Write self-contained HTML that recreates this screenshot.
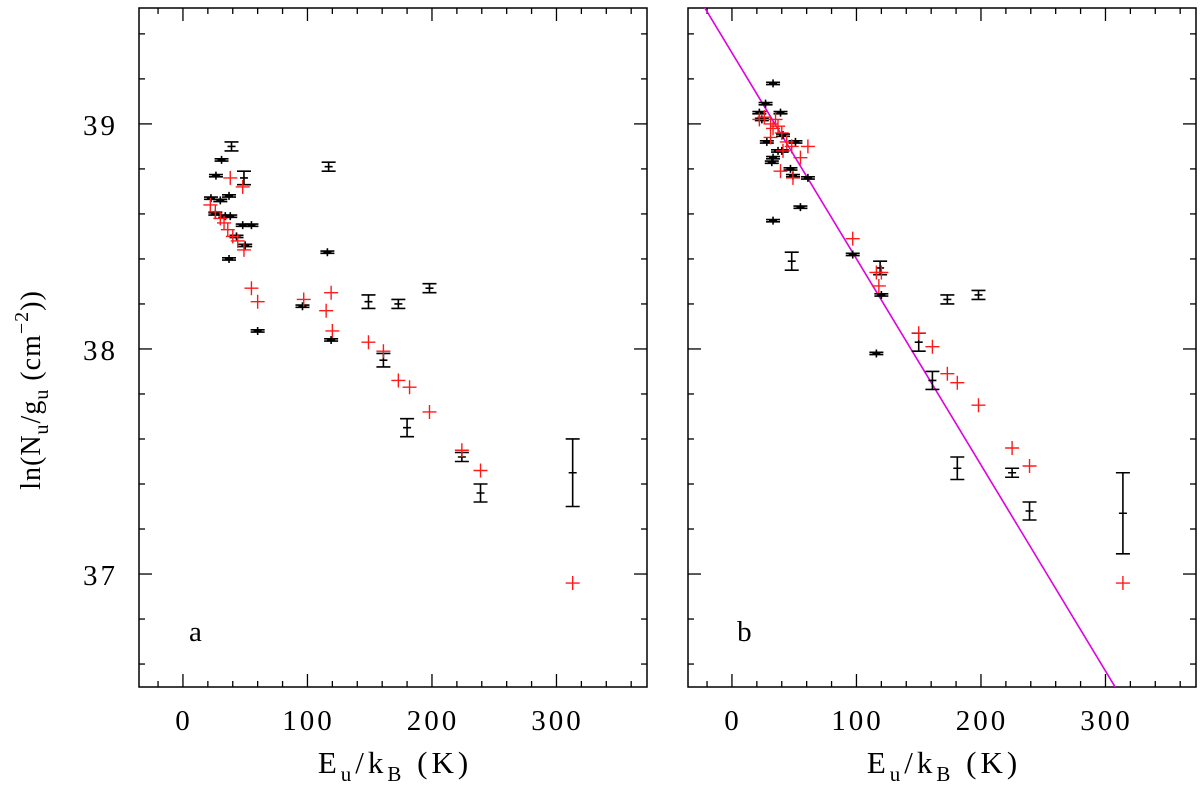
<!DOCTYPE html>
<html><head><meta charset="utf-8"><style>
body{margin:0;background:#fff;}
svg{display:block;font-family:"Liberation Serif",serif;}
</style></head><body>
<svg id="chart" width="1200" height="785" viewBox="0 0 1200 785"></svg>
<script>
// Panel a data: [E_u/k_B, ln(Nu/gu), err]
const blackAK=[39,26.5,31,49,22.5,30,37,26,34,38,48,55,43,50,37,60,117,116,96,119,149,173,198,161,180,224,239,313];
const blackAY=[38.90,38.77,38.84,38.76,38.67,38.66,38.68,38.60,38.59,38.59,38.55,38.55,38.50,38.46,38.40,38.08,38.81,38.43,38.19,38.04,38.21,38.20,38.27,37.95,37.65,37.52,37.36,37.45];
const blackAE=[0.02,0.005,0.005,0.03,0.005,0.005,0.005,0.005,0.005,0.005,0.005,0.005,0.005,0.005,0.005,0.005,0.02,0.005,0.005,0.005,0.03,0.02,0.02,0.03,0.04,0.02,0.04,0.15];
const redAK=[38,48,22,26,30,33,36,40,44,49,55,60,97,115,119,120,149,161,173,182,198,224,239,313];
const redAY=[38.76,38.72,38.64,38.61,38.58,38.56,38.53,38.50,38.48,38.44,38.27,38.21,38.22,38.17,38.25,38.08,38.03,37.99,37.86,37.83,37.72,37.55,37.46,36.96];
// Panel b data
const blackBK=[33,27,39,22,24,28,51,41,37,33,32,40,47,49,61,55,33,48,97,119,120,173,198,150,116,161,181,225,239,314];
const blackBY=[39.18,39.09,39.05,39.05,39.02,38.92,38.92,38.95,38.88,38.85,38.83,38.88,38.80,38.77,38.76,38.63,38.57,38.39,38.42,38.36,38.24,38.22,38.24,38.03,37.98,37.86,37.47,37.45,37.28,37.27];
const blackBE=[0.005,0.005,0.005,0.005,0.005,0.005,0.005,0.005,0.005,0.005,0.005,0.005,0.005,0.005,0.005,0.005,0.005,0.04,0.005,0.03,0.005,0.02,0.02,0.04,0.005,0.04,0.05,0.02,0.04,0.18];
const redBK=[22,26,31,33,35,37,40,31,44,48,61,55,39,49,41,97,116,120,118,150,161,173,181,198,225,239,314];
const redBY=[39.02,39.03,39.00,38.98,39.02,38.99,38.96,38.94,38.92,38.90,38.90,38.85,38.79,38.76,38.88,38.49,38.34,38.34,38.28,38.07,38.01,37.89,37.85,37.75,37.56,37.48,36.96];
// Fit line (panel b)
const fitIntercept=39.316;
const fitSlope=-0.009156;
const xTicks=[0,100,200,300];
const yTicks=[37,38,39];

const NS="http://www.w3.org/2000/svg";
const svg=document.getElementById('chart');
function el(tag,attrs,parent){const e=document.createElementNS(NS,tag);for(const k in attrs)e.setAttribute(k,attrs[k]);(parent||svg).appendChild(e);return e;}
const XMIN=-35.3,XMAX=372.7,YMIN=36.498,YMAX=39.515,TOP=8,BOT=687;
function yS(v){return BOT-(v-YMIN)/(YMAX-YMIN)*(BOT-TOP);}

function panel(left,right,name,letter,bK,bY,bE,rK,rY,showY,fit){
  const g=el('g',{});
  
  
  const xS=v=>left+(v-XMIN)/(XMAX-XMIN)*(right-left);
  const frame=el('rect',{x:left,y:TOP,width:right-left,height:BOT-TOP,fill:'none',stroke:'#000','stroke-width':1.5},g);
  
  
  for(let v=-20;v<=360;v+=20){
    const x=xS(v);const L=(v%100===0)?13:6;
    el('line',{x1:x,x2:x,y1:BOT,y2:BOT-L,stroke:'#000','stroke-width':1.3},g);
    el('line',{x1:x,x2:x,y1:TOP,y2:TOP+L,stroke:'#000','stroke-width':1.3},g);
  }
  xTicks.forEach(v=>{const t=el('text',{x:xS(v)+1,y:730,'font-size':29,'letter-spacing':3,'text-anchor':'middle'},g);t.textContent=v;
    });
  for(let i=0;i<15;i++){
    const v=36.6+i*0.2;const y=yS(v);const major=Math.abs(v-Math.round(v))<0.01;const L=major?13:6;
    el('line',{x1:left,x2:left+L,y1:y,y2:y,stroke:'#000','stroke-width':1.3},g);
    el('line',{x1:right,x2:right-L,y1:y,y2:y,stroke:'#000','stroke-width':1.3},g);
  }
  if(showY) yTicks.forEach(v=>{const t=el('text',{x:118,y:yS(v)+11,'font-size':29,'letter-spacing':3,'text-anchor':'end'},g);t.textContent=v;
    });
  const xl=el('text',{x:(left+right)/2+2,y:773,'font-size':31,'letter-spacing':4,'text-anchor':'middle'},g);
  xl.innerHTML='E<tspan font-size="21" dy="8">u</tspan><tspan dy="-8">/k</tspan><tspan font-size="21" dy="8">B</tspan><tspan dy="-8"> (K)</tspan>';
  
  const lt=el('text',{x:xS(10),y:641,'font-size':29,'text-anchor':'middle'},g);lt.textContent=letter;
  
  if(fit){
    const x0=XMIN,x1=XMAX;
    const cp=el('clipPath',{id:'clip'+letter},g);el('rect',{x:left,y:TOP,width:right-left,height:BOT-TOP},cp);
    const ln=el('line',{x1:xS(x0),y1:yS(fitIntercept+fitSlope*x0),x2:xS(x1),y2:yS(fitIntercept+fitSlope*x1),stroke:'#e000e0','stroke-width':1.6,'clip-path':'url(#clip'+letter+')'},g);
    
  }
  bK.forEach((k,i)=>{
    const x=xS(k),y=yS(bY[i]),y1=yS(bY[i]+bE[i]),y2=yS(bY[i]-bE[i]);
    const p=el('path',{d:`M${x},${y1}V${y2}M${x-7},${y1}H${x+7}M${x-7},${y2}H${x+7}M${x-4},${y}H${x+4}M${x},${y-4}V${y+4}`,stroke:'#000','stroke-width':1.6,fill:'none'},g);
    
  });
  rK.forEach((k,i)=>{
    const x=xS(k),y=yS(rY[i]);
    const p=el('path',{d:`M${x-7},${y}H${x+7}M${x},${y-7}V${y+7}`,stroke:'#ff1a1a','stroke-width':1.4,fill:'none'},g);
    
  });
}
panel(139,647,'panel-a','a',blackAK,blackAY,blackAE,redAK,redAY,true,false);
panel(688,1196,'panel-b','b',blackBK,blackBY,blackBE,redBK,redBY,false,true);
const yl=el('text',{x:0,y:0,'font-size':28,'letter-spacing':1,'text-anchor':'middle',transform:'translate(40,390) rotate(-90)'});
yl.innerHTML='ln(N<tspan font-size="20" dy="8">u</tspan><tspan dy="-8">/g</tspan><tspan font-size="20" dy="8">u</tspan><tspan dy="-8"> (cm</tspan><tspan font-size="20" dy="-12">−2</tspan><tspan dy="12">))</tspan>';


</script>
</body></html>
